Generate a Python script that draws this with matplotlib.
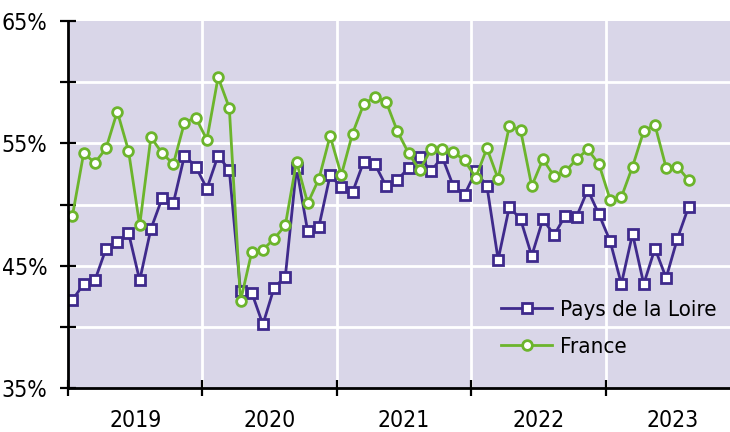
import matplotlib
matplotlib.use("Agg")
import matplotlib.pyplot as plt
import matplotlib.font_manager as fm
from matplotlib.ticker import FixedLocator, NullFormatter

years = ["2019", "2020", "2021", "2022", "2023"]
yticks = [35, 45, 55, 65]
ylabels = ["35%", "45%", "55%", "65%"]

pays_de_la_loire = [
    42.2, 43.5, 43.8, 46.4, 46.9, 47.7, 43.8, 48.0, 50.5, 50.1, 54.0, 53.1,
    51.3, 54.0, 52.8, 42.9, 42.8, 40.2, 43.2, 44.1, 53.0, 47.8, 48.2, 52.4,
    51.4, 51.0, 53.5, 53.3, 51.5, 52.0, 53.0, 53.9, 52.7, 53.9, 51.5, 50.8,
    52.7, 51.5, 45.5, 49.8, 48.8, 45.8, 48.8, 47.5, 49.1, 49.0, 51.2, 49.2,
    47.0, 43.5, 47.6, 43.5, 46.4, 44.0, 47.2, 49.8,
]
france = [
    49.1, 54.2, 53.4, 54.6, 57.6, 54.4, 48.3, 55.5, 54.2, 53.3, 56.7, 57.1,
    55.3, 60.4, 57.9, 42.1, 46.1, 46.3, 47.2, 48.3, 53.5, 50.1, 52.1, 55.6,
    52.4, 55.8, 58.2, 58.8, 58.4, 56.0, 54.2, 52.8, 54.5, 54.5, 54.3, 53.6,
    52.2, 54.6, 52.1, 56.4, 56.1, 51.5, 53.7, 52.3, 52.7, 53.7, 54.5, 53.3,
    50.4, 50.6, 53.1, 56.0, 56.5, 53.0, 53.1, 52.0,
]

# pick a condensed / narrow font if one exists
def _stretch_val(s):
    if isinstance(s, int):
        return s
    table = {'ultra-condensed': 100, 'extra-condensed': 200, 'condensed': 300,
             'semi-condensed': 400, 'normal': 500}
    return table.get(s, 500)

cands = []
for f in fm.fontManager.ttflist:
    nm = f.name.lower()
    w = f.weight if isinstance(f.weight, int) else {'normal': 400, 'regular': 400}.get(f.weight, 700)
    if f.style != 'normal' or w > 500:
        continue
    fname = f.fname.lower()
    if 'narrow' in nm or 'condensed' in nm or 'narrow' in fname or 'condensed' in fname \
            or _stretch_val(f.stretch) < 500:
        if 'mono' in nm or 'serif' in nm and 'sans' not in nm:
            continue
        cands.append(f)
cands.sort(key=lambda f: f.fname)

if cands:
    FP = dict(fname=cands[0].fname)
    scale = 1.0
else:
    FP = dict(family='Roboto')
    scale = 0.85

def fp(size):
    return fm.FontProperties(size=size, **FP)

purple = "#3f2a8c"
green = "#6cb52c"
bg = "#d9d6e8"

fig = plt.figure(figsize=(7.3, 4.32), dpi=100)
ax = fig.add_axes([68/730, 1-388/432, 1-68/730, (388-21)/432])
ax.set_facecolor(bg)

x = list(range(len(france)))
ax.plot(x, pays_de_la_loire, color=purple, lw=2, marker='s', ms=7.5,
        mfc='white', mec=purple, mew=2, label="Pays de la Loire", zorder=3)
ax.plot(x, france, color=green, lw=2, marker='o', ms=7, mfc='white',
        mec=green, mew=2, label="France", zorder=3)

ax.set_ylim(35, 65)
ax.set_xlim(-0.4, 58.7)

ax.yaxis.set_major_locator(FixedLocator(yticks))
ax.set_yticklabels(ylabels, fontproperties=fp(16.5 * scale))
ax.yaxis.set_minor_locator(FixedLocator([40, 50, 60]))

bounds = [12*k - 0.4 for k in range(5)]
ax.xaxis.set_major_locator(FixedLocator(bounds))
ax.xaxis.set_major_formatter(NullFormatter())
ax.xaxis.set_minor_locator(FixedLocator([12*k + 5.6 for k in range(5)]))
ax.set_xticklabels(years, minor=True, fontproperties=fp(16.5 * scale))

for v in [40, 45, 50, 55, 60]:
    ax.axhline(v, color='white', lw=2, zorder=1)
for b in bounds[1:]:
    ax.axvline(b, color='white', lw=2, zorder=1)

ax.tick_params(axis='y', which='both', direction='inout', length=12, width=1.6,
               pad=9, color='black')
ax.tick_params(axis='x', which='major', direction='inout', length=12, width=1.6)
ax.tick_params(axis='x', which='minor', length=0, pad=15)

for s in ['top', 'right']:
    ax.spines[s].set_visible(False)
for s in ['left', 'bottom']:
    ax.spines[s].set_linewidth(2)
    ax.spines[s].set_zorder(4)

leg = ax.legend(loc='upper left', bbox_to_anchor=((501-68)/662, 1-(300-21)/367),
                frameon=False, prop=fp(16 * scale), handlelength=2.3,
                handletextpad=0.35, labelspacing=0.75, borderaxespad=0,
                borderpad=0)

fig.savefig("out.png", dpi=100, facecolor='white')
